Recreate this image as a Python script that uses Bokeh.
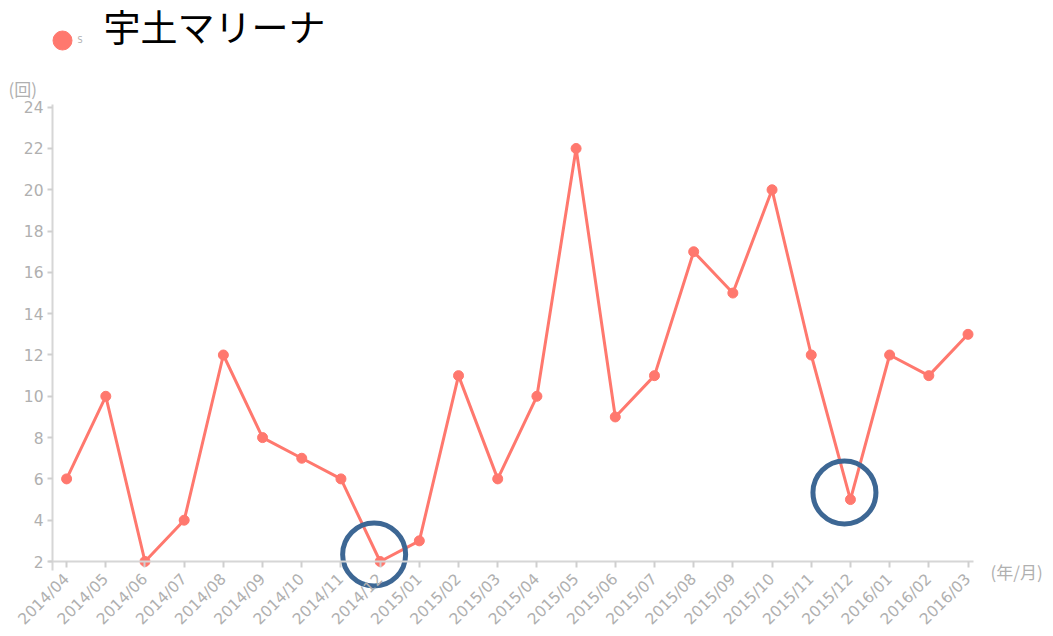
import numpy as np
from bokeh.plotting import figure
from bokeh.models import Range1d, FixedTicker, Label, LinearAxis
from bokeh.embed import file_html
from bokeh.resources import INLINE

# ---- data ----
months = ["2014/04", "2014/05", "2014/06", "2014/07", "2014/08", "2014/09", "2014/10",
          "2014/11", "2014/12", "2015/01", "2015/02", "2015/03", "2015/04", "2015/05",
          "2015/06", "2015/07", "2015/08", "2015/09", "2015/10", "2015/11", "2015/12",
          "2016/01", "2016/02", "2016/03"]
counts = [6, 10, 2, 4, 12, 8, 7, 6, 2, 3, 11, 6, 10, 22, 9, 11, 17, 15, 20, 12, 5, 12, 11, 13]
y_ticks = [2, 4, 6, 8, 10, 12, 14, 16, 18, 20, 22, 24]
highlight = ["2014/12", "2015/12"]
title_text = "宇土マリーナ"
series_name = "S"

# ---- layout (pixels) ----
W, H = 1053, 636
AX_L, AX_R, AX_T, AX_B = 52, 973, 104, 561   # axis box in canvas pixels
XA0, XA1 = -0.36, 23.14                       # x data at axis ends
YA0, YA1 = 2.0, 24.13                         # y data at axis ends
pxx = (AX_R - AX_L) / (XA1 - XA0)
pxy = (AX_B - AX_T) / (YA1 - YA0)

def dx(px):
    return XA0 + (px - AX_L) / pxx

def dy(py):
    return YA0 + (AX_B - py) / pxy

LINE = "#ff786e"
GRAY = "#b0b0b0"
BLUE = "#3d6794"

xs = list(range(len(months)))

p = figure(width=W, height=H,
           x_range=Range1d(dx(0), dx(W)), y_range=Range1d(dy(H), dy(0)),
           x_axis_location=None, y_axis_location=None,
           output_backend="svg", toolbar_location=None, min_border=0)
p.outline_line_color = None
p.xgrid.grid_line_color = None
p.ygrid.grid_line_color = None

xaxis = LinearAxis(fixed_location=YA0, bounds=(dx(48), XA1))
yaxis = LinearAxis(fixed_location=XA0, bounds=(dy(570), YA1))
p.add_layout(xaxis, "below")
p.add_layout(yaxis, "left")

for ax in (xaxis, yaxis):
    ax.axis_line_color = "#d6d6d6"
    ax.axis_line_width = 2
    ax.major_tick_line_color = "#cfcfcf"
    ax.major_tick_line_width = 2
    ax.minor_tick_line_color = None
    ax.major_label_text_color = GRAY
    ax.major_label_text_font = "DejaVu Sans"
    ax.major_label_text_font_size = "15.5px"

xaxis.ticker = FixedTicker(ticks=xs)
xaxis.major_label_overrides = {i: m for i, m in enumerate(months)}
xaxis.major_label_orientation = np.pi / 4
xaxis.major_tick_out = 6
xaxis.major_tick_in = 0
xaxis.major_label_standoff = 9
yaxis.ticker = FixedTicker(ticks=y_ticks)
yaxis.major_tick_out = 5
yaxis.major_tick_in = 0
yaxis.major_label_standoff = 4

p.line(xs, counts, line_color=LINE, line_width=3)
p.scatter(xs, counts, size=10, fill_color=LINE, line_color=LINE)

# highlight rings
hx = [months.index(m) - 6 / pxx for m in highlight]
hy = [counts[months.index(m)] + 7 / pxy for m in highlight]
p.scatter(hx, hy, size=63, fill_color=None, line_color=BLUE, line_width=5)

# legend marker + truncated legend text
p.scatter([dx(62)], [dy(40)], size=19, fill_color=LINE, line_color=LINE)
p.add_layout(Label(x=dx(77), y=dy(40), text=series_name, text_font_size="8px",
                   text_color=GRAY, text_baseline="middle", text_font="DejaVu Sans"))

# title
p.add_layout(Label(x=dx(103), y=dy(25), text=title_text, text_font_size="37px",
                   text_color="#000000", text_baseline="middle",
                   text_font="Noto Sans CJK JP"))

# axis unit labels
p.add_layout(Label(x=dx(8), y=dy(88), text="(回)", text_font_size="17px",
                   text_color=GRAY, text_baseline="middle", text_font="Noto Sans CJK JP"))
p.add_layout(Label(x=dx(990), y=dy(571), text="(年/月)", text_font_size="17px",
                   text_color=GRAY, text_baseline="middle", text_font="Noto Sans CJK JP"))

open("out.html", "w").write(file_html(p, INLINE))
